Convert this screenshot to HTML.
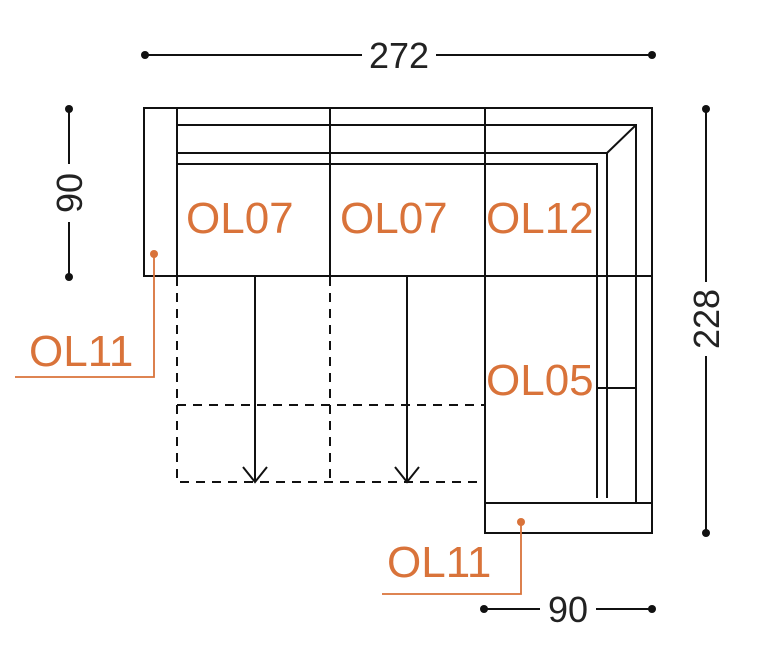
<!DOCTYPE html>
<html><head><style>
html,body{margin:0;padding:0;background:#fff;}
svg{display:block;}
.l{stroke:#111;stroke-width:2;fill:none;}
.d{stroke:#111;stroke-width:2;fill:none;stroke-dasharray:9,7;}
.o{stroke:#d9733a;stroke-width:1.8;fill:none;}
.t{font-family:"Liberation Sans",sans-serif;fill:#d9733a;font-size:44px;}
.k{font-family:"Liberation Sans",sans-serif;fill:#222;font-size:36px;}
</style></head><body>
<svg width="768" height="652" viewBox="0 0 768 652">
<line class="l" x1="145" y1="55" x2="362" y2="55"/><line class="l" x1="436" y1="55" x2="652" y2="55"/>
<circle cx="145" cy="55" r="4" fill="#111"/><circle cx="652" cy="55" r="4" fill="#111"/>
<text class="k" x="399" y="68" text-anchor="middle">272</text>
<line class="l" x1="69" y1="109" x2="69" y2="164"/><line class="l" x1="69" y1="222" x2="69" y2="277"/>
<circle cx="69" cy="109" r="4" fill="#111"/><circle cx="69" cy="277" r="4" fill="#111"/>
<text class="k" transform="translate(82,193) rotate(-90)" text-anchor="middle">90</text>
<line class="l" x1="706" y1="109" x2="706" y2="282"/><line class="l" x1="706" y1="356" x2="706" y2="533"/>
<circle cx="706" cy="109" r="4" fill="#111"/><circle cx="706" cy="533" r="4" fill="#111"/>
<text class="k" transform="translate(719,319) rotate(-90)" text-anchor="middle">228</text>
<line class="l" x1="484" y1="609" x2="540" y2="609"/><line class="l" x1="596" y1="609" x2="652" y2="609"/>
<circle cx="484" cy="609" r="4" fill="#111"/><circle cx="652" cy="609" r="4" fill="#111"/>
<text class="k" x="568" y="622" text-anchor="middle">90</text>
<path class="l" d="M144 108 H652 V533 H485 V276 H144 Z"/>
<line class="l" x1="177" y1="108" x2="177" y2="276"/>
<line class="l" x1="330" y1="108" x2="330" y2="276"/>
<line class="l" x1="485" y1="108" x2="485" y2="276"/>
<line class="l" x1="485" y1="276" x2="652" y2="276"/>
<path class="l" d="M177 125 H636 V503"/>
<path class="l" d="M177 153 H607 V498"/>
<line class="l" x1="636" y1="125" x2="607" y2="153"/>
<path class="l" d="M177 164 H597 V498"/>
<line class="l" x1="485" y1="503" x2="652" y2="503"/>
<line class="l" x1="597" y1="388" x2="636" y2="388"/>
<path class="d" d="M177 277 V482 H485"/>
<line class="d" x1="330" y1="277" x2="330" y2="482"/>
<line class="d" x1="177" y1="405" x2="485" y2="405"/>
<line class="l" x1="255" y1="276" x2="255" y2="482"/>
<line class="l" x1="407" y1="276" x2="407" y2="482"/>
<path class="l" d="M243 467 L255 482 L267 467"/>
<path class="l" d="M395 467 L407 482 L419 467"/>
<text class="t" x="186" y="233">OL07</text>
<text class="t" x="340" y="233">OL07</text>
<text class="t" x="486" y="233">OL12</text>
<text class="t" x="486" y="395">OL05</text>
<circle cx="154" cy="254" r="4" fill="#d9733a"/>
<path class="o" d="M154 254 V377 H15"/>
<text class="t" x="29" y="366">OL11</text>
<circle cx="521" cy="522" r="4" fill="#d9733a"/>
<path class="o" d="M521 522 V594 H382"/>
<text class="t" x="387" y="577">OL11</text>
</svg>
</body></html>
